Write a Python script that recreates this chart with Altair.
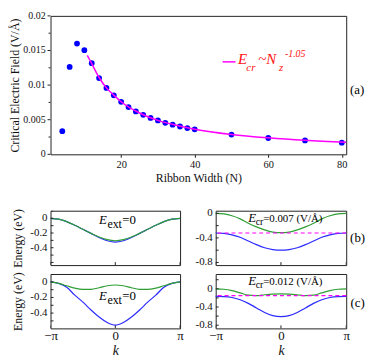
import math
import altair as alt
import pandas as pd

PI = math.pi
SERIF = "Liberation Serif"

# ---------------- panel (a) data ----------------
N_WIDTH = [4, 6, 8, 10, 12, 14, 16, 18, 20, 22, 24, 26, 28, 30, 32, 34, 36, 38, 40, 50, 60, 70, 80]
E_CRIT = [0.00335, 0.01263, 0.01600, 0.01504, 0.01317, 0.01102, 0.00959, 0.00852, 0.00758,
          0.00683, 0.00620, 0.00571, 0.00526, 0.00490, 0.00455, 0.00429, 0.00402, 0.00379,
          0.00362, 0.00285, 0.00236, 0.00201, 0.00169]
FIT_N = [10.8, 12, 14, 16, 18, 20, 25, 30, 35, 40, 50, 60, 70, 81.2]
FIT_E = [0.01430, 0.01310, 0.01110, 0.00960, 0.00855, 0.00760, 0.00597, 0.00490, 0.00420,
         0.00363, 0.00287, 0.00238, 0.00202, 0.00174]
A_X_TICKS = [20, 40, 60, 80]
A_X_LABELS = ["20", "40", "60", "80"]
A_Y_TICKS = [0, 0.005, 0.01, 0.015, 0.02]
A_Y_LABELS = ["0", "0.005", "0.01", "0.015", "0.02"]
A_Y_MINOR = [0.0025, 0.0075, 0.0125, 0.0175]

# ---------------- band panels data ----------------
K_FRAC = [-1, -0.875, -0.75, -0.625, -0.5, -0.375, -0.25, -0.125, 0,
          0.125, 0.25, 0.375, 0.5, 0.625, 0.75, 0.875, 1]
K_TICKS = [-PI, 0, PI]
K_LABELS = ["\u2212\u03c0", "0", "\u03c0"]

L1_GREEN = [0, -0.012, -0.045, -0.095, -0.15, -0.205, -0.255, -0.29, -0.305,
            -0.29, -0.255, -0.205, -0.15, -0.095, -0.045, -0.012, 0]
L1_BLUE = [0, -0.012, -0.045, -0.095, -0.15, -0.205, -0.262, -0.305, -0.325,
           -0.305, -0.262, -0.205, -0.15, -0.095, -0.045, -0.012, 0]
L2_GREEN = [0, -0.02, -0.05, -0.08, -0.097, -0.095, -0.075, -0.05, -0.04,
            -0.05, -0.075, -0.095, -0.097, -0.08, -0.05, -0.02, 0]
L2_BLUE = [0, -0.02, -0.07, -0.17, -0.26, -0.36, -0.45, -0.52, -0.555,
           -0.52, -0.45, -0.36, -0.26, -0.17, -0.07, -0.02, 0]
R1_GREEN = [0, -0.01, -0.04, -0.09, -0.16, -0.22, -0.27, -0.305, -0.315,
            -0.305, -0.27, -0.22, -0.16, -0.09, -0.04, -0.01, 0]
R1_BLUE = [-0.32, -0.325, -0.35, -0.39, -0.45, -0.51, -0.56, -0.59, -0.60,
           -0.59, -0.56, -0.51, -0.45, -0.39, -0.35, -0.325, -0.32]
R1_DASH = -0.32
R2_GREEN = [0, -0.01, -0.04, -0.09, -0.14, -0.15, -0.13, -0.115, -0.11,
            -0.115, -0.13, -0.15, -0.14, -0.09, -0.04, -0.01, 0]
R2_BLUE = [-0.165, -0.17, -0.19, -0.24, -0.32, -0.42, -0.52, -0.59, -0.61,
           -0.59, -0.52, -0.42, -0.32, -0.24, -0.19, -0.17, -0.165]
R2_DASH = -0.15

L_Y_LABELED = [0, -0.2, -0.4]
L_Y_LABELS = ["0", "-0.2", "-0.4"]
L1_Y_TICKS = [0.1, 0, -0.1, -0.2, -0.3, -0.4, -0.5, -0.6]
L2_Y_TICKS = [0.1, 0, -0.1, -0.2, -0.3, -0.4, -0.5]
R_Y_LABELED = [0, -0.4, -0.8]
R_Y_LABELS = ["0", "-0.4", "-0.8"]
R1_Y_TICKS = [0, -0.2, -0.4, -0.6, -0.8]
R2_Y_TICKS = [0.2, 0, -0.2, -0.4, -0.6, -0.8]

# ---------------- styles ----------------
PT_BLUE = "#0000ff"
MAGENTA = "#ff00ff"
BAND_BLUE = "#2a2aff"
BAND_GREEN = "#2f9f35"
RED = "#ff1010"
FRAME = "#222222"
INK = "#111111"

W_A, H_A = 299, 140
W_L, W_R, H_B = 131, 132, 55
EXT_A, EXT_B = 27, 24


def lexpr(vals, labels, tol):
    e = "''"
    for v, l in reversed(list(zip(vals, labels))):
        e = f"abs(datum.value - ({v!r})) < {tol} ? '{l}' : ({e})"
    return e


def txt(s, x, y, size, style="normal", color="black", align="left", baseline="alphabetic"):
    return alt.Chart(pd.DataFrame({"t": [s]})).mark_text(
        text=s, font=SERIF, fontSize=size, fontStyle=style, color=color,
        align=align, baseline=baseline
    ).encode(x=alt.value(x), y=alt.value(y))


def y_labels(vals, labels, x, size):
    return alt.Chart(pd.DataFrame({"E": vals, "lab": labels})).mark_text(
        font=SERIF, fontSize=size, color=INK, align="right", baseline="middle"
    ).encode(y="E:Q", x=alt.value(x), text="lab:N")


def y_ticks(vals, x0, x1, clip=False):
    return alt.Chart(pd.DataFrame({"E": vals})).mark_rule(
        color=FRAME, strokeWidth=1, clip=clip).encode(y="E:Q", x=alt.value(x0), x2=alt.value(x1))


def y_axis(title, extent):
    args = dict(labels=False, ticks=False, tickSize=0, domain=False, grid=False,
                minExtent=extent, maxExtent=extent)
    if title:
        return alt.Axis(title=title, titleFont=SERIF, titleFontSize=12,
                        titleFontWeight="normal", titleColor=INK, titlePadding=2, **args)
    return alt.Axis(title=None, **args)


# ---------------- panel (a) ----------------
xA = alt.X("N:Q", scale=alt.Scale(domain=[0.8, 81.2], nice=False, zero=False),
           axis=alt.Axis(values=A_X_TICKS, labelExpr=lexpr(A_X_TICKS, A_X_LABELS, 0.01),
                         tickSize=3, tickColor=FRAME, labelPadding=2, labelFontSize=10.5,
                         labelFont=SERIF, labelColor=INK, labelFlush=False, labelOverlap=False,
                         title="Ribbon Width (N)", titleFont=SERIF, titleFontSize=12,
                         titleFontWeight="normal", titleColor=INK, titlePadding=3,
                         domain=False, grid=False))
yA = alt.Y("E:Q", scale=alt.Scale(domain=[0, 0.02], nice=False, zero=False),
           axis=y_axis("Critical Electric Field (V/\u00c5)", EXT_A))

pts = alt.Chart(pd.DataFrame({"N": N_WIDTH, "E": E_CRIT})).mark_circle(
    size=34, color=PT_BLUE, opacity=1).encode(x=xA, y=yA)
fit = alt.Chart(pd.DataFrame({"N": FIT_N, "E": FIT_E})).mark_line(
    color=MAGENTA, strokeWidth=1.5, interpolate="monotone", clip=True).encode(x="N:Q", y="E:Q")
leg_line = alt.Chart(pd.DataFrame({"t": [0]})).mark_rule(color=MAGENTA, strokeWidth=1.5).encode(
    x=alt.value(174), x2=alt.value(187), y=alt.value(46.5))

panel_a = alt.layer(
    pts, fit,
    y_ticks(A_Y_TICKS, -3, 0), y_ticks(A_Y_MINOR, -2, 0),
    y_labels(A_Y_TICKS, A_Y_LABELS, -5, 10),
    leg_line,
    txt("E", 189.5, 49, 15, "italic", RED),
    txt("cr", 198, 56, 11, "italic", RED),
    txt("~N", 210, 49, 15, "italic", RED),
    txt("z", 231, 56, 11, "italic", RED),
    txt("-1.05", 237, 42, 10, "italic", RED),
    txt("(a)", 310, 75, 13, align="center", baseline="middle"),
).properties(width=W_A, height=H_A)


# ---------------- band panels ----------------
def band_df(vals):
    return pd.DataFrame({"k": [f * PI for f in K_FRAC], "E": vals})


def band_panel(blue, green, ydom, ylab_vals, ylabels, yticks, width, bottom_row, ytitle,
               dashed=None, texts=()):
    if bottom_row:
        xaxis = alt.Axis(values=K_TICKS, labelExpr=lexpr(K_TICKS, K_LABELS, 0.01),
                         ticks=False, tickSize=0, labelPadding=1, labelFontSize=13,
                         labelFont=SERIF, labelColor=INK,
                         labelFlush=False, labelOverlap=False,
                         title="k", titleFont=SERIF, titleFontStyle="italic",
                         titleFontWeight="normal", titleColor=INK, titleFontSize=14,
                         titlePadding=1, domain=False, grid=False)
    else:
        xaxis = alt.Axis(values=K_TICKS, labels=False, ticks=False, tickSize=0,
                         title=None, domain=False, grid=False)
    x = alt.X("k:Q", scale=alt.Scale(domain=[-PI, PI], nice=False, zero=False), axis=xaxis)
    y = alt.Y("E:Q", scale=alt.Scale(domain=ydom, nice=False, zero=False),
              axis=y_axis(ytitle, EXT_B))
    layers = [
        alt.Chart(band_df(blue)).mark_line(color=BAND_BLUE, strokeWidth=1.2,
                                           interpolate="monotone").encode(x=x, y=y),
        alt.Chart(band_df(green)).mark_line(color=BAND_GREEN, strokeWidth=1.2,
                                            interpolate="monotone").encode(x="k:Q", y="E:Q"),
    ]
    if dashed is not None:
        layers.append(alt.Chart(pd.DataFrame({"E": [dashed]})).mark_rule(
            color=MAGENTA, strokeDash=[4, 3], strokeWidth=1.2).encode(y="E:Q"))
    # inward ticks on the left and bottom frame, and the tick labels
    layers.append(y_ticks(yticks, 0, 3, clip=True))
    layers.append(alt.Chart(pd.DataFrame({"k": K_TICKS})).mark_rule(
        color=FRAME, strokeWidth=1, clip=True).encode(x="k:Q", y=alt.value(H_B),
                                                      y2=alt.value(H_B - 3)))
    layers.append(y_labels(ylab_vals, ylabels, -3, 11))
    layers += list(texts)
    return alt.layer(*layers).properties(width=width, height=H_B)


def eext(yb):
    return [txt("E", 49, yb, 13, "italic"), txt("ext", 57.5, yb + 4.5, 12),
            txt("=0", 72.5, yb, 13)]


def ecr(yb, val):
    return [txt("E", 33, yb, 13, "italic"), txt("cr", 40.5, yb + 3.5, 10),
            txt("=" + val + " (V/\u00c5)", 48, yb, 11)]


L1 = band_panel(L1_BLUE, L1_GREEN, [-0.636, 0.103], L_Y_LABELED, L_Y_LABELS, L1_Y_TICKS,
                W_L, False, "Energy (eV)", texts=eext(13))
L2 = band_panel(L2_BLUE, L2_GREEN, [-0.596, 0.101], L_Y_LABELED, L_Y_LABELS, L2_Y_TICKS,
                W_L, True, "Energy (eV)", texts=eext(26))
R1 = band_panel(R1_BLUE, R1_GREEN, [-0.843, 0.043], R_Y_LABELED, R_Y_LABELS, R1_Y_TICKS,
                W_R, False, None, dashed=R1_DASH,
                texts=ecr(11, "0.007") + [txt("(b)", 143.5, 28, 13, align="center",
                                              baseline="middle")])
R2 = band_panel(R2_BLUE, R2_GREEN, [-0.87, 0.326], R_Y_LABELED, R_Y_LABELS, R2_Y_TICKS,
                W_R, True, None, dashed=R2_DASH,
                texts=ecr(11, "0.012") + [txt("(c)", 143.5, 29, 13, align="center",
                                              baseline="middle")])

row1 = alt.hconcat(L1, R1, spacing=36, bounds="flush")
row2 = alt.hconcat(L2, R2, spacing=36, bounds="flush")
bottom = alt.vconcat(row1, row2, spacing=3)

chart = alt.vconcat(panel_a, bottom, spacing=23).properties(padding=0).configure_view(
    stroke=FRAME, strokeWidth=1
).configure_axis(
    labelFont=SERIF, titleFont=SERIF, labelColor=INK, titleColor=INK,
    tickColor=FRAME, titleFontWeight="normal"
).configure_text(font=SERIF)

chart.save("out.html", embed_options={"renderer": "svg", "actions": False})
